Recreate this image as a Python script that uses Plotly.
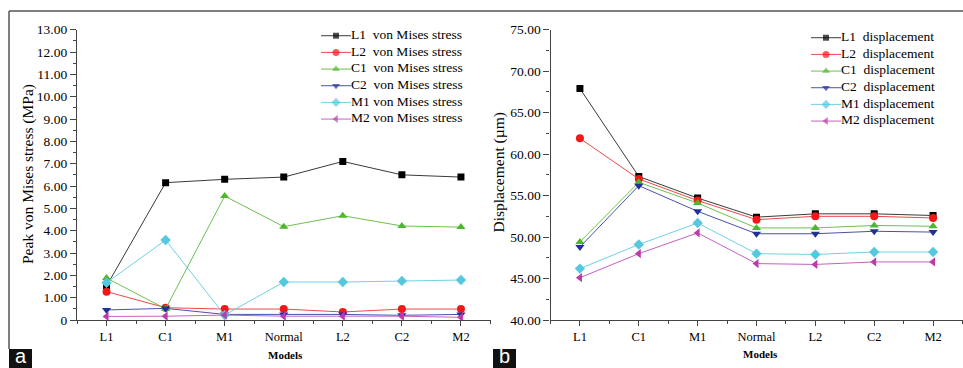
import plotly.graph_objects as go

# ---------------- data ----------------
categories = ["L1", "C1", "M1", "Normal", "L2", "C2", "M2"]

series_keys = ["L1", "L2", "C1", "C2", "M1", "M2"]

stress_L1 = [1.52, 6.15, 6.30, 6.40, 7.10, 6.50, 6.40]
stress_L2 = [1.27, 0.55, 0.49, 0.49, 0.36, 0.49, 0.49]
stress_C1 = [1.88, 0.50, 5.55, 4.18, 4.67, 4.21, 4.16]
stress_C2 = [0.45, 0.52, 0.25, 0.25, 0.25, 0.21, 0.25]
stress_M1 = [1.67, 3.58, 0.22, 1.70, 1.70, 1.75, 1.79]
stress_M2 = [0.16, 0.17, 0.22, 0.17, 0.17, 0.17, 0.12]

disp_L1 = [67.9, 57.3, 54.7, 52.4, 52.8, 52.8, 52.6]
disp_L2 = [61.9, 57.0, 54.4, 52.1, 52.5, 52.5, 52.3]
disp_C1 = [49.4, 56.6, 54.1, 51.1, 51.1, 51.4, 51.3]
disp_C2 = [48.8, 56.2, 53.1, 50.4, 50.4, 50.7, 50.6]
disp_M1 = [46.2, 49.1, 51.7, 48.0, 47.9, 48.2, 48.2]
disp_M2 = [45.1, 48.0, 50.5, 46.8, 46.7, 47.0, 47.0]

stress_names = ["L1\u00a0\u00a0von Mises stress", "L2\u00a0\u00a0von Mises stress",
                "C1\u00a0\u00a0von Mises stress", "C2\u00a0\u00a0von Mises stress",
                "M1 von Mises stress", "M2 von Mises stress"]
disp_names = ["L1\u00a0\u00a0displacement", "L2\u00a0\u00a0displacement",
              "C1\u00a0\u00a0displacement", "C2\u00a0\u00a0displacement",
              "M1 displacement", "M2 displacement"]

stress_tickvals = list(range(0, 14))
stress_ticktext = ["0", "1.00", "2.00", "3.00", "4.00", "5.00", "6.00", "7.00",
                   "8.00", "9.00", "10.00", "11.00", "12.00", "13.00"]
disp_tickvals = [40, 45, 50, 55, 60, 65, 70, 75]
disp_ticktext = ["40.00", "45.00", "50.00", "55.00", "60.00", "65.00", "70.00", "75.00"]

# ---------------- styles ----------------
marker_colors = ["#000000", "#f01818", "#4cb82c", "#22309a", "#55c8de", "#bd3aab"]
line_colors = ["#3a3a3a", "#f04848", "#6cc050", "#4a52aa", "#70d0e6", "#c860c0"]
symbols = ["square", "circle", "triangle-up", "triangle-down", "diamond", "triangle-left"]
msizes = [7, 8, 8, 8, 8, 8]

stress = [stress_L1, stress_L2, stress_C1, stress_C2, stress_M1, stress_M2]
disp = [disp_L1, disp_L2, disp_C1, disp_C2, disp_M1, disp_M2]

SERIF = "Liberation Serif, Times New Roman, serif"
W, H = 963, 368
xidx = list(range(len(categories)))


def px_x(p):
    return p / W


def px_y(p):
    return 1 - p / H


fig = go.Figure()

for i in range(6):
    fig.add_trace(go.Scatter(
        x=xidx, y=stress[i], mode="lines+markers", showlegend=False,
        line=dict(color=line_colors[i], width=1),
        marker=dict(symbol=symbols[i], size=msizes[i], color=marker_colors[i], line=dict(width=0)),
        xaxis="x", yaxis="y"))
    fig.add_trace(go.Scatter(
        x=xidx, y=disp[i], mode="lines+markers", showlegend=False,
        line=dict(color=line_colors[i], width=1),
        marker=dict(symbol=symbols[i], size=msizes[i], color=marker_colors[i], line=dict(width=0)),
        xaxis="x2", yaxis="y2"))

# custom legends (row k at y=-k on hidden axes)
for i in range(6):
    for names, xa, ya in [(stress_names, "x3", "y3"), (disp_names, "x4", "y4")]:
        fig.add_trace(go.Scatter(
            x=[0, 0.5, 1], y=[-i, -i, -i], mode="lines+markers+text",
            text=["", "", names[i]], textposition="middle right",
            textfont=dict(family=SERIF, size=13.5, color="#000"),
            line=dict(color=line_colors[i], width=1),
            marker=dict(symbol=symbols[i], size=[0, msizes[i] - 1, 0], color=marker_colors[i], line=dict(width=0)),
            showlegend=False, cliponaxis=False, xaxis=xa, yaxis=ya, hoverinfo="skip"))

axis_color = "#444444"
minor_x = [v - 0.5 for v in xidx] + [xidx[-1] + 0.5]

xcommon = dict(
    range=[-0.5, len(categories) - 0.5], tickmode="array", tickvals=xidx, ticktext=categories,
    showline=True, linecolor=axis_color, linewidth=1.2, ticks="outside", ticklen=5,
    tickcolor=axis_color, tickwidth=1, showgrid=False, zeroline=False, automargin=False,
    tickfont=dict(family=SERIF, size=12.5, color="#000"),
    minor=dict(tickmode="array", tickvals=minor_x, ticks="outside", ticklen=3,
               tickcolor=axis_color, showgrid=False),
)

ydom = [px_y(320), px_y(29.7)]

fig.update_layout(
    template="none",
    width=W, height=H, margin=dict(l=0, r=0, t=0, b=0, pad=0, autoexpand=False),
    paper_bgcolor="white", plot_bgcolor="white", showlegend=False,
    xaxis=dict(domain=[px_x(77), px_x(490.5)], anchor="y", **xcommon),
    xaxis2=dict(domain=[px_x(550.5), px_x(962.5)], anchor="y2", **xcommon),
    yaxis=dict(domain=ydom, anchor="x", range=[0, 13], tickmode="array",
               tickvals=stress_tickvals, ticktext=stress_ticktext, automargin=False,
               showline=True, linecolor=axis_color, linewidth=1.2, ticks="outside", ticklen=6,
               tickcolor=axis_color, showgrid=False, zeroline=False,
               tickfont=dict(family=SERIF, size=13.5, color="#000"),
               minor=dict(tickmode="array", tickvals=[v + 0.5 for v in stress_tickvals[:-1]],
                          ticks="outside", ticklen=3, tickcolor=axis_color, showgrid=False)),
    yaxis2=dict(domain=ydom, anchor="x2", range=[40, 75], tickmode="array",
                tickvals=disp_tickvals, ticktext=disp_ticktext, automargin=False,
                showline=True, linecolor=axis_color, linewidth=1.2, ticks="outside", ticklen=6,
                tickcolor=axis_color, showgrid=False, zeroline=False,
                tickfont=dict(family=SERIF, size=13.5, color="#000"),
                minor=dict(tickmode="array", tickvals=[v + 2.5 for v in disp_tickvals[:-1]],
                           ticks="outside", ticklen=3, tickcolor=axis_color, showgrid=False)),
    xaxis3=dict(domain=[px_x(321), px_x(482)], range=[0, 161 / 30], visible=False, anchor="y3"),
    yaxis3=dict(domain=[px_y(127.4), px_y(27.4)], range=[-5.5, 0.5], visible=False, anchor="x3"),
    xaxis4=dict(domain=[px_x(811), px_x(963)], range=[0, 152 / 30], visible=False, anchor="y4"),
    yaxis4=dict(domain=[px_y(129.4), px_y(29.4)], range=[-5.5, 0.5], visible=False, anchor="x4"),
)

frame_color = "#555555"
shapes = [
    dict(type="line", xref="paper", yref="paper", x0=px_x(9), x1=1, y0=px_y(11), y1=px_y(11),
         line=dict(color=frame_color, width=1.5)),
    dict(type="line", xref="paper", yref="paper", x0=px_x(9), x1=px_x(9), y0=px_y(11), y1=px_y(349),
         line=dict(color=frame_color, width=1.5)),
    dict(type="rect", xref="paper", yref="paper", x0=px_x(9), x1=px_x(32), y0=px_y(368), y1=px_y(349),
         fillcolor="#111", line=dict(width=0)),
    dict(type="rect", xref="paper", yref="paper", x0=px_x(493), x1=px_x(516), y0=px_y(368), y1=px_y(349),
         fillcolor="#111", line=dict(width=0)),
]
fig.update_layout(shapes=shapes)

annotations = [
    dict(text="Peak von Mises stress (MPa)", x=px_x(28), y=px_y(174), xref="paper", yref="paper",
         textangle=-90, showarrow=False, font=dict(family=SERIF, size=15.5, color="#000"),
         xanchor="center", yanchor="middle"),
    dict(text="Displacement (µm)", x=px_x(498), y=px_y(172.5), xref="paper", yref="paper",
         textangle=-90, showarrow=False, font=dict(family=SERIF, size=15.5, color="#000"),
         xanchor="center", yanchor="middle"),
    dict(text="<b>Models</b>", x=px_x(285), y=px_y(355), xref="paper", yref="paper",
         showarrow=False, font=dict(family=SERIF, size=11, color="#000"),
         xanchor="center", yanchor="middle"),
    dict(text="<b>Models</b>", x=px_x(760), y=px_y(354), xref="paper", yref="paper",
         showarrow=False, font=dict(family=SERIF, size=11, color="#000"),
         xanchor="center", yanchor="middle"),
    dict(text="a", x=px_x(20.5), y=px_y(356), xref="paper", yref="paper",
         showarrow=False, font=dict(family="Liberation Sans, Arial, sans-serif", size=20, color="white"),
         xanchor="center", yanchor="middle"),
    dict(text="b", x=px_x(504.5), y=px_y(356), xref="paper", yref="paper",
         showarrow=False, font=dict(family="Liberation Sans, Arial, sans-serif", size=20, color="white"),
         xanchor="center", yanchor="middle"),
]
fig.update_layout(annotations=annotations)

fig.write_html("out.html", config={"displayModeBar": False},
               post_script="document.body.style.margin='0';document.body.style.overflow='hidden';")
